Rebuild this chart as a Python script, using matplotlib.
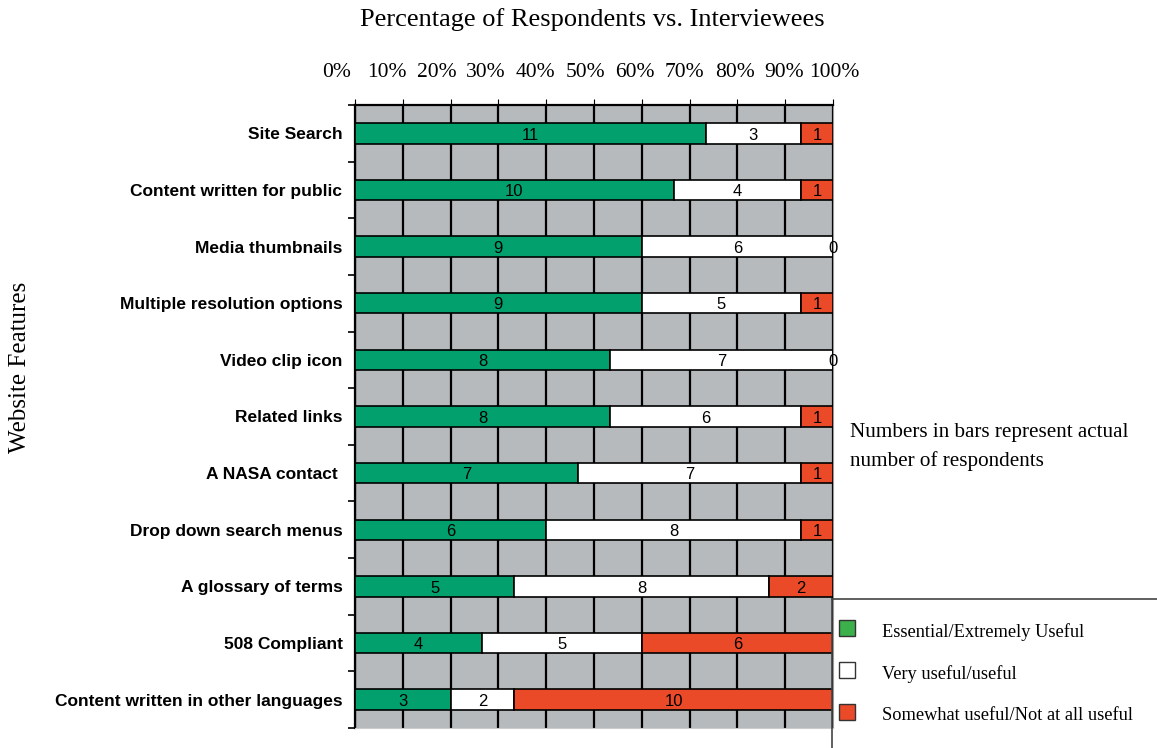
import matplotlib
matplotlib.use("Agg")
import matplotlib.pyplot as plt
import numpy as np
from matplotlib.patches import Rectangle
from matplotlib.lines import Line2D

features = ["Site Search", "Content written for public", "Media thumbnails",
            "Multiple resolution options", "Video clip icon", "Related links",
            "A NASA contact ", "Drop down search menus", "A glossary of terms",
            "508 Compliant", "Content written in other languages"]
essential = [11, 10, 9, 9, 8, 8, 7, 6, 5, 4, 3]
useful = [3, 4, 6, 5, 7, 6, 7, 8, 8, 5, 2]
not_useful = [1, 1, 0, 1, 0, 1, 1, 1, 2, 6, 10]
tick_labels = ["0%", "10%", "20%", "30%", "40%", "50%", "60%", "70%", "80%", "90%", "100%"]
legend_labels = ["Essential/Extremely Useful", "Very useful/useful",
                 "Somewhat useful/Not at all useful"]

W, H = 1157, 748
GREEN = "#02a06c"
RED = "#ea4a28"
GRAY = "#b6babd"
SERIF = "Liberation Serif"
SANS = "Liberation Sans"

fig = plt.figure(figsize=(W / 100, H / 100), dpi=100)


def px(x0, y0, x1, y1):
    # pixel box -> figure fraction rect
    return [x0 / W, 1 - y1 / H, (x1 - x0) / W, (y1 - y0) / H]


ax = fig.add_axes(px(355, 105, 833, 728))
ax.set_facecolor(GRAY)

counts = np.array([essential, useful, not_useful], dtype=float)
totals = counts.sum(axis=0)
pct = counts / totals * 100
y = np.arange(len(features))
left = np.zeros(len(features))
colors = [GREEN, "white", RED]
for row, c in zip(range(3), colors):
    ax.barh(y, pct[row], left=left, height=0.36, color=c, edgecolor="black",
            linewidth=1.2, zorder=3)
    for yi, (l, w, n) in enumerate(zip(left, pct[row], counts[row])):
        ax.text(l + w / 2, yi + 0.03, f"{int(n)}", ha="center", va="center",
                fontsize=12, family=SANS, zorder=4, clip_on=False)
    left = left + pct[row]

ax.set_xlim(0, 100)
ax.set_ylim(len(features) - 0.5, -0.5)
ax.set_xticks(np.arange(0, 101, 10))
ax.xaxis.tick_top()
ax.tick_params(axis="x", length=4, labeltop=False, labelbottom=False)
ax.grid(axis="x", color="black", linewidth=1.6, zorder=1)
ax.set_axisbelow(True)

ax.set_yticks(np.arange(-0.5, len(features), 1.0))
ax.set_yticklabels([])
ax.set_yticks(y, minor=True)
ax.set_yticklabels(features, minor=True, fontsize=12.5, family=SANS,
                   fontweight="bold")
ax.tick_params(axis="y", which="minor", length=0, pad=9)
ax.tick_params(axis="y", which="major", length=5, width=1.2)

for side in ["left", "top"]:
    ax.spines[side].set_linewidth(1.6)
ax.spines["right"].set_color("#999999")
ax.spines["bottom"].set_color("#cccccc")

# percent labels above the chart
tax = fig.add_axes(px(337, 85, 834, 86))
tax.set_xlim(0, 100)
tax.set_xticks(np.arange(0, 101, 10))
tax.set_xticklabels(tick_labels, fontsize=15.5, family=SERIF)
tax.xaxis.tick_top()
tax.tick_params(axis="x", length=0, pad=2)
tax.set_yticks([])
for s in tax.spines.values():
    s.set_visible(False)
tax.patch.set_visible(False)

fig.text(592 / W, 1 - 20 / H, "Percentage of Respondents vs. Interviewees",
         ha="center", va="center", fontsize=19, family=SERIF)
fig.text(20 / W, 1 - 367 / H, "Website Features", rotation=90,
         ha="center", va="center", fontsize=18, family=SERIF)
fig.text(850 / W, 1 - 447 / H,
         "Numbers in bars represent actual\nnumber of respondents",
         ha="left", va="center", fontsize=15.2, family=SERIF, linespacing=1.55)

# legend box at the lower right
fig.add_artist(Line2D([832 / W, 832 / W], [0, 1 - 599 / H], color="#444444",
                      linewidth=1.2, transform=fig.transFigure))
fig.add_artist(Line2D([832 / W, 1], [1 - 599 / H, 1 - 599 / H], color="#444444",
                      linewidth=1.2, transform=fig.transFigure))
legend_colors = ["#3cb04a", "white", RED]
for i, (lab, c) in enumerate(zip(legend_labels, legend_colors)):
    cy = 631 + i * 42
    fig.add_artist(Rectangle((839 / W, 1 - (cy + 5) / H), 16 / W, 16 / H,
                             facecolor=c, edgecolor="#333333", linewidth=1.0,
                             transform=fig.transFigure))
    fig.text(882 / W, 1 - (cy + 1) / H, lab, ha="left", va="center",
             fontsize=13.2, family=SERIF)

fig.savefig("out.png", dpi=100)
